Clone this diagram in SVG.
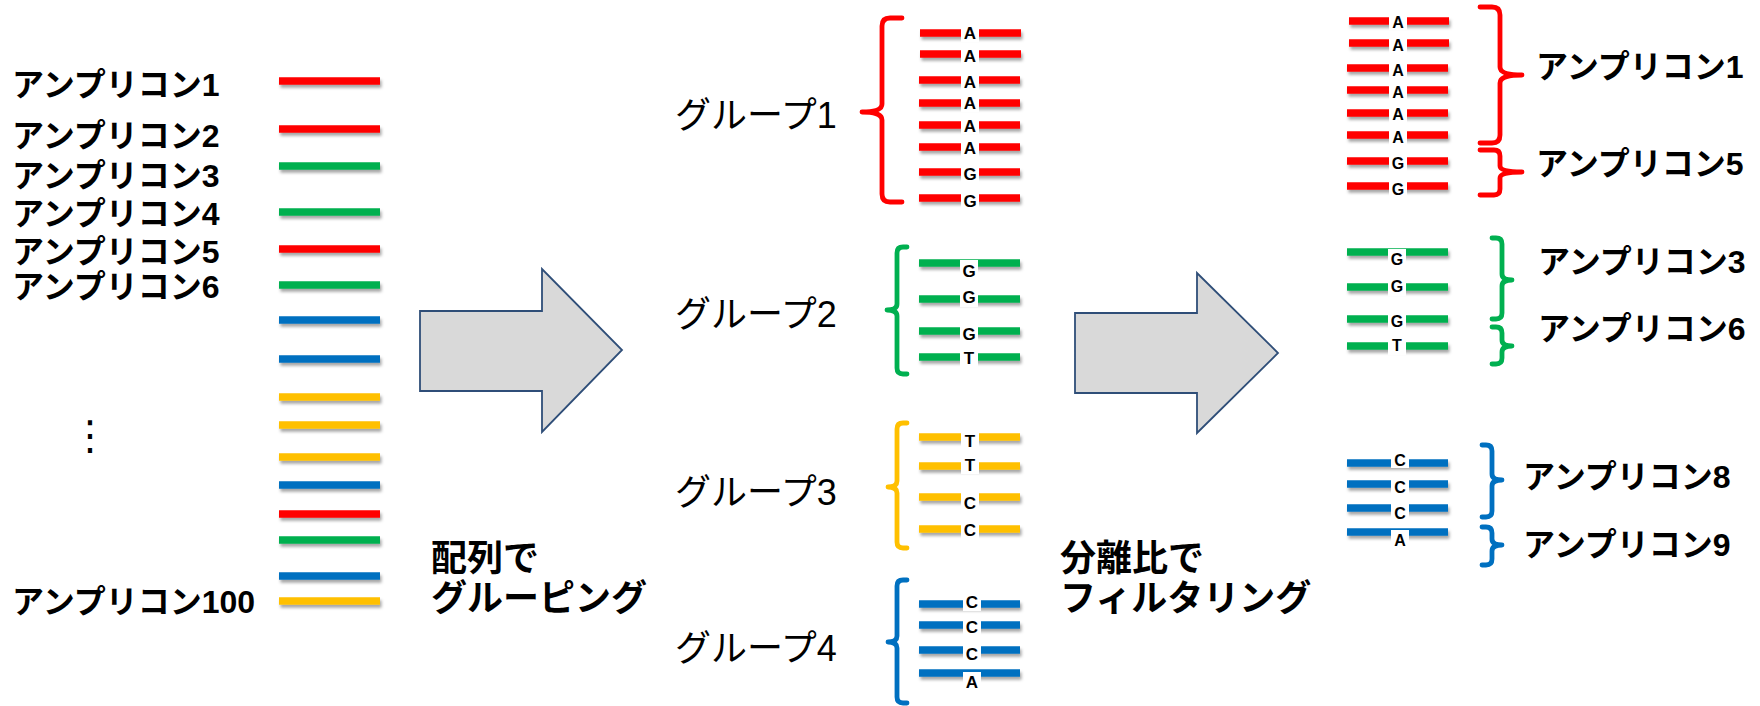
<svg xmlns="http://www.w3.org/2000/svg" width="1760" height="706" viewBox="0 0 1760 706">
<style>
.lb{font-family:"Liberation Sans","Noto Sans CJK JP",sans-serif;font-weight:bold;font-size:32px;fill:#000}
.gl{font-family:"Liberation Sans","Noto Sans CJK JP",sans-serif;font-weight:normal;font-size:36px;fill:#000}
.st{font-family:"Liberation Sans","Noto Sans CJK JP",sans-serif;font-weight:bold;font-size:36px;fill:#000}
.nt{font-family:"Liberation Sans",Arial,sans-serif;font-weight:bold;font-size:17px;fill:#000;text-anchor:middle}
.nt2{font-family:"Liberation Sans",Arial,sans-serif;font-weight:bold;font-size:16px;fill:#000;text-anchor:middle}
.r{stroke:#FF0000}.g{stroke:#00B050}.bl{stroke:#0070C0}.y{stroke:#FFC000}
.ln line{stroke-width:7.5}
.br{fill:none;stroke-width:4.8;stroke-linecap:round;stroke-linejoin:round}
.box{fill:#fff}
.arr{fill:#D9D9D9;stroke:#2F4E78;stroke-width:1.8}
</style>
<defs>
<filter id="sh" x="-10%" y="-100%" width="120%" height="400%">
<feDropShadow dx="1.5" dy="3" stdDeviation="1.8" flood-color="#000" flood-opacity="0.35"/>
</filter>
</defs>
<rect width="1760" height="706" fill="#fff"/>

<g id="input-list">
<text class="lb" x="12" y="96">アンプリコン1</text>
<text class="lb" x="12" y="147">アンプリコン2</text>
<text class="lb" x="12" y="187">アンプリコン3</text>
<text class="lb" x="12" y="225">アンプリコン4</text>
<text class="lb" x="12" y="263">アンプリコン5</text>
<text class="lb" x="12" y="298">アンプリコン6</text>
<text x="90" y="449" font-family="DejaVu Sans" font-weight="normal" font-size="40" text-anchor="middle">⋮</text>
<text class="lb" x="12" y="613">アンプリコン100</text>
<g class="ln" filter="url(#sh)">
<line class="r" x1="279" y1="81" x2="380" y2="81"/>
<line class="r" x1="279" y1="129" x2="380" y2="129"/>
<line class="g" x1="279" y1="166" x2="380" y2="166"/>
<line class="g" x1="279" y1="212" x2="380" y2="212"/>
<line class="r" x1="279" y1="249" x2="380" y2="249"/>
<line class="g" x1="279" y1="285" x2="380" y2="285"/>
<line class="bl" x1="279" y1="320" x2="380" y2="320"/>
<line class="bl" x1="279" y1="359" x2="380" y2="359"/>
<line class="y" x1="279" y1="397" x2="380" y2="397"/>
<line class="y" x1="279" y1="425" x2="380" y2="425"/>
<line class="y" x1="279" y1="457" x2="380" y2="457"/>
<line class="bl" x1="279" y1="485" x2="380" y2="485"/>
<line class="r" x1="279" y1="514" x2="380" y2="514"/>
<line class="g" x1="279" y1="540" x2="380" y2="540"/>
<line class="bl" x1="279" y1="576" x2="380" y2="576"/>
<line class="y" x1="279" y1="601" x2="380" y2="601"/>
</g>
</g>

<g id="connectors">
<path class="arr" d="M420,311 H542 V269 L622,350 L542,432 V391 H420 Z"/>
<path class="arr" d="M1075,313 H1197 V273 L1278,353 L1197,433 V393 H1075 Z"/>
</g>

<g id="label-grouping">
<text class="st" x="431" y="571">配列で</text>
<text class="st" x="431" y="611">グルーピング</text>
</g>

<g id="group1">
<text class="gl" x="675" y="128">グループ1</text>
<path class="br r" d="M902,18 H890 Q882,18 882,26 V104 Q882,112 862,112 Q882,112 882,120 V194 Q882,202 890,202 H902"/>
<g class="ln" filter="url(#sh)">
<line class="r" x1="920" y1="33" x2="1021" y2="33"/>
<line class="r" x1="920" y1="54" x2="1021" y2="54"/>
<line class="r" x1="919" y1="80" x2="1020" y2="80"/>
<line class="r" x1="919" y1="103" x2="1020" y2="103"/>
<line class="r" x1="919" y1="125" x2="1020" y2="125"/>
<line class="r" x1="919" y1="147" x2="1020" y2="147"/>
<line class="r" x1="919" y1="172" x2="1020" y2="172"/>
<line class="r" x1="919" y1="198" x2="1020" y2="198"/>
</g>
<rect class="box" x="961" y="24" width="18" height="18"/>
<rect class="box" x="961" y="46" width="18" height="19"/>
<rect class="box" x="961" y="72" width="18" height="18"/>
<rect class="box" x="961" y="94" width="18" height="18"/>
<rect class="box" x="961" y="116" width="18" height="18"/>
<rect class="box" x="961" y="139" width="18" height="18"/>
<rect class="box" x="961" y="164" width="18" height="19"/>
<rect class="box" x="961" y="191" width="18" height="19"/>
<text class="nt" x="970" y="38.5">A</text>
<text class="nt" x="970" y="61.5">A</text>
<text class="nt" x="970" y="87.5">A</text>
<text class="nt" x="970" y="108.5">A</text>
<text class="nt" x="970" y="131.5">A</text>
<text class="nt" x="970" y="153.5">A</text>
<text class="nt" x="970" y="179.5">G</text>
<text class="nt" x="970" y="206.5">G</text>
</g>

<g id="group2">
<text class="gl" x="675" y="327">グループ2</text>
<path class="br g" d="M907,247 H903 Q897,247 897,253 V304 Q897,310 887,310 Q897,310 897,316 V368 Q897,374 903,374 H907"/>
<g class="ln" filter="url(#sh)">
<line class="g" x1="919" y1="263" x2="1020" y2="263"/>
<line class="g" x1="919" y1="299" x2="1020" y2="299"/>
<line class="g" x1="919" y1="331" x2="1020" y2="331"/>
<line class="g" x1="919" y1="357" x2="1020" y2="357"/>
</g>
<rect class="box" x="960" y="260" width="18" height="20"/>
<rect class="box" x="960" y="288" width="18" height="19"/>
<rect class="box" x="960" y="324" width="18" height="19"/>
<rect class="box" x="960" y="348" width="18" height="19"/>
<text class="nt" x="969" y="276.5">G</text>
<text class="nt" x="969" y="302.5">G</text>
<text class="nt" x="969" y="339.5">G</text>
<text class="nt" x="969" y="363.5">T</text>
</g>

<g id="group3">
<text class="gl" x="675" y="505">グループ3</text>
<path class="br y" d="M907,423 H903 Q897,423 897,429 V481 Q897,487 888,487 Q897,487 897,493 V542 Q897,548 903,548 H907"/>
<g class="ln" filter="url(#sh)">
<line class="y" x1="919" y1="437" x2="1020" y2="437"/>
<line class="y" x1="919" y1="466" x2="1020" y2="466"/>
<line class="y" x1="919" y1="497" x2="1020" y2="497"/>
<line class="y" x1="919" y1="529" x2="1020" y2="529"/>
</g>
<rect class="box" x="961" y="432" width="18" height="18"/>
<rect class="box" x="961" y="456" width="18" height="18"/>
<rect class="box" x="961" y="493" width="18" height="19"/>
<rect class="box" x="961" y="520" width="18" height="19"/>
<text class="nt" x="970" y="446.5">T</text>
<text class="nt" x="970" y="470.5">T</text>
<text class="nt" x="970" y="508.5">C</text>
<text class="nt" x="970" y="535.5">C</text>
</g>

<g id="group4">
<text class="gl" x="675" y="661">グループ4</text>
<path class="br bl" d="M907,580 H903 Q897,580 897,586 V636 Q897,642 888,642 Q897,642 897,648 V697 Q897,703 903,703 H907"/>
<g class="ln" filter="url(#sh)">
<line class="bl" x1="919" y1="604" x2="1020" y2="604"/>
<line class="bl" x1="919" y1="625" x2="1020" y2="625"/>
<line class="bl" x1="919" y1="650" x2="1020" y2="650"/>
<line class="bl" x1="919" y1="673" x2="1020" y2="673"/>
</g>
<rect class="box" x="963" y="593" width="18" height="18"/>
<rect class="box" x="963" y="617" width="18" height="19"/>
<rect class="box" x="963" y="644" width="18" height="19"/>
<rect class="box" x="963" y="672" width="18" height="18"/>
<text class="nt" x="972" y="607.5">C</text>
<text class="nt" x="972" y="632.5">C</text>
<text class="nt" x="972" y="659.5">C</text>
<text class="nt" x="972" y="687.5">A</text>
</g>

<g id="label-filter">
<text class="st" x="1060" y="571">分離比で</text>
<text class="st" x="1060" y="611">フィルタリング</text>
</g>

<g id="result-red">
<g class="ln" filter="url(#sh)">
<line class="r" x1="1349" y1="21" x2="1449" y2="21"/>
<line class="r" x1="1349" y1="43" x2="1449" y2="43"/>
<line class="r" x1="1347" y1="68" x2="1448" y2="68"/>
<line class="r" x1="1347" y1="90" x2="1448" y2="90"/>
<line class="r" x1="1347" y1="113" x2="1448" y2="113"/>
<line class="r" x1="1347" y1="135" x2="1448" y2="135"/>
<line class="r" x1="1347" y1="161" x2="1448" y2="161"/>
<line class="r" x1="1347" y1="186" x2="1448" y2="186"/>
</g>
<rect class="box" x="1389" y="13" width="18" height="17"/>
<rect class="box" x="1389" y="36" width="18" height="18"/>
<rect class="box" x="1389" y="61" width="18" height="17"/>
<rect class="box" x="1389" y="83" width="18" height="17"/>
<rect class="box" x="1389" y="105" width="18" height="18"/>
<rect class="box" x="1389" y="128" width="18" height="18"/>
<rect class="box" x="1389" y="154" width="18" height="17"/>
<rect class="box" x="1389" y="179" width="18" height="19"/>
<text class="nt2" x="1398" y="27.5">A</text>
<text class="nt2" x="1398" y="50.5">A</text>
<text class="nt2" x="1398" y="75.5">A</text>
<text class="nt2" x="1398" y="97.5">A</text>
<text class="nt2" x="1398" y="119.5">A</text>
<text class="nt2" x="1398" y="142.5">A</text>
<text class="nt2" x="1398" y="168.5">G</text>
<text class="nt2" x="1398" y="194.5">G</text>
<path class="br r" d="M1480,7 H1492 Q1500,7 1500,15 V67 Q1500,75 1522,75 Q1500,75 1500,83 V135 Q1500,143 1492,143 H1480"/>
<path class="br r" d="M1480,150 H1494 Q1500,150 1500,156 V166 Q1500,172 1522,172 Q1500,172 1500,178 V189 Q1500,195 1494,195 H1480"/>
<text class="lb" x="1536" y="78">アンプリコン1</text>
<text class="lb" x="1536" y="175">アンプリコン5</text>
</g>

<g id="result-green">
<g class="ln" filter="url(#sh)">
<line class="g" x1="1347" y1="252" x2="1448" y2="252"/>
<line class="g" x1="1347" y1="287" x2="1448" y2="287"/>
<line class="g" x1="1347" y1="319" x2="1448" y2="319"/>
<line class="g" x1="1347" y1="346" x2="1448" y2="346"/>
</g>
<rect class="box" x="1388" y="249" width="18" height="19"/>
<rect class="box" x="1388" y="277" width="18" height="19"/>
<rect class="box" x="1388" y="312" width="18" height="18"/>
<rect class="box" x="1388" y="336" width="18" height="19"/>
<text class="nt2" x="1397" y="264.5">G</text>
<text class="nt2" x="1397" y="291.5">G</text>
<text class="nt2" x="1397" y="326.5">G</text>
<text class="nt2" x="1397" y="350.5">T</text>
<path class="br g" d="M1492,238 H1496 Q1502,238 1502,244 V274 Q1502,280 1512,280 Q1502,280 1502,286 V313 Q1502,319 1496,319 H1492"/>
<path class="br g" d="M1492,327 H1496 Q1502,327 1502,333 V340 Q1502,346 1512,346 Q1502,346 1502,352 V358 Q1502,364 1496,364 H1492"/>
<text class="lb" x="1538" y="273">アンプリコン3</text>
<text class="lb" x="1538" y="340">アンプリコン6</text>
</g>

<g id="result-blue">
<g class="ln" filter="url(#sh)">
<line class="bl" x1="1347" y1="463" x2="1448" y2="463"/>
<line class="bl" x1="1347" y1="484" x2="1448" y2="484"/>
<line class="bl" x1="1347" y1="508" x2="1448" y2="508"/>
<line class="bl" x1="1347" y1="532" x2="1448" y2="532"/>
</g>
<rect class="box" x="1391" y="451" width="18" height="17"/>
<rect class="box" x="1391" y="477" width="18" height="18"/>
<rect class="box" x="1391" y="503" width="18" height="18"/>
<rect class="box" x="1391" y="530" width="18" height="18"/>
<text class="nt2" x="1400" y="465.5">C</text>
<text class="nt2" x="1400" y="492.5">C</text>
<text class="nt2" x="1400" y="518.5">C</text>
<text class="nt2" x="1400" y="545.5">A</text>
<path class="br bl" d="M1482,445 H1486 Q1492,445 1492,451 V474 Q1492,480 1502,480 Q1492,480 1492,486 V511 Q1492,517 1486,517 H1482"/>
<path class="br bl" d="M1482,527 H1486 Q1492,527 1492,533 V539 Q1492,545 1502,545 Q1492,545 1492,551 V559 Q1492,565 1486,565 H1482"/>
<text class="lb" x="1523" y="488">アンプリコン8</text>
<text class="lb" x="1523" y="556">アンプリコン9</text>
</g>
</svg>
